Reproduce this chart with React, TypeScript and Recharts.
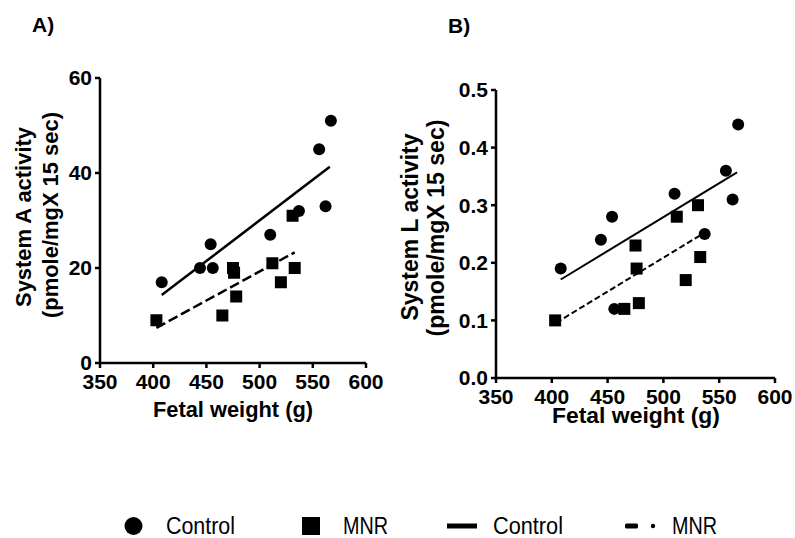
import { ScatterChart, Scatter, XAxis, YAxis } from 'recharts'

const FONT = '"Liberation Sans", Arial, sans-serif'
const INK = '#000'

// fetal weight (g), same animals in both panels
const weightControl = [408, 444, 454, 456, 510, 537, 556, 562, 567]
const weightMNR = [403, 465, 475, 476, 478, 512, 520, 531, 533]

// System A activity (pmole/mg X 15 sec)
const sysAControl = [17, 20, 25, 20, 27, 32, 45, 33, 51]
const sysAMNR = [9, 10, 20, 19, 14, 21, 17, 31, 20]

// System L activity (pmole/mg X 15 sec)
const sysLControl = [0.19, 0.24, 0.28, 0.12, 0.32, 0.25, 0.36, 0.31, 0.44]
const sysLMNR = [0.1, 0.12, 0.23, 0.19, 0.13, 0.28, 0.17, 0.3, 0.21]

// regression line end points
const fitAControlX = [408, 566]
const fitAControlY = [14.3, 41.3]
const fitAMNRX = [403, 533]
const fitAMNRY = [7.4, 23.3]
const fitLControlX = [408, 566]
const fitLControlY = [0.171, 0.357]
const fitLMNRX = [404, 535]
const fitLMNRY = [0.096, 0.25]

const xTicks = [350, 400, 450, 500, 550, 600]
const yTicksA = [0, 20, 40, 60]
const yTicksL = [0, 0.1, 0.2, 0.3, 0.4, 0.5]

const zip = (xs: number[], ys: number[]) => xs.map((x, i) => ({ x, y: ys[i] }))

const Dot = ({ cx, cy }: any) => <circle cx={cx} cy={cy} r={6} fill={INK} />
const Box = ({ cx, cy }: any) => <rect x={cx - 6} y={cy - 6} width={12} height={12} fill={INK} />
const NoMark = () => <g />

const axisStroke = { stroke: INK, strokeWidth: 2.5 }
const tickStyle = { fill: INK, fontSize: 21, fontWeight: 700, fontFamily: FONT }

type PanelProps = {
  left: number
  width: number
  margin: { top: number; right: number; left: number; bottom: number }
  yDomain: [number, number]
  yTicks: number[]
  yFmt?: (v: number) => string
  control: { x: number; y: number }[]
  mnr: { x: number; y: number }[]
  fitControl: { x: number; y: number }[]
  fitMNR: { x: number; y: number }[]
  lineW: number
  dash: string
}

function Panel(p: PanelProps) {
  return (
    <div style={{ position: 'absolute', left: p.left, top: 0 }}>
      <ScatterChart width={p.width} height={440} margin={p.margin}>
        <XAxis
          type="number"
          dataKey="x"
          domain={[350, 600]}
          ticks={xTicks}
          axisLine={axisStroke}
          tickLine={axisStroke}
          tickSize={5}
          tickMargin={6}
          tick={tickStyle}
          height={30}
        />
        <YAxis
          type="number"
          dataKey="y"
          domain={p.yDomain}
          ticks={p.yTicks}
          tickFormatter={p.yFmt}
          axisLine={axisStroke}
          tickLine={axisStroke}
          tickSize={5}
          tickMargin={3}
          tick={tickStyle}
          width={60}
        />
        <Scatter data={p.control} shape={<Dot />} isAnimationActive={false} />
        <Scatter data={p.mnr} shape={<Box />} isAnimationActive={false} />
        <Scatter
          data={p.fitControl}
          line={{ stroke: INK, strokeWidth: p.lineW }}
          lineType="joint"
          shape={<NoMark />}
          isAnimationActive={false}
        />
        <Scatter
          data={p.fitMNR}
          line={{ stroke: INK, strokeWidth: p.lineW, strokeDasharray: p.dash }}
          lineType="joint"
          shape={<NoMark />}
          isAnimationActive={false}
        />
      </ScatterChart>
    </div>
  )
}

const bold = { fontFamily: FONT, fontWeight: 700, fill: INK }
const plain = { fontFamily: FONT, fill: INK }

export default function App() {
  return (
    <div style={{ position: 'absolute', left: 0, top: 0, width: 795, height: 538, background: '#fff' }}>
      <Panel
        left={0}
        width={395}
        margin={{ top: 78, right: 29, left: 40, bottom: 47 }}
        yDomain={[0, 60]}
        yTicks={yTicksA}
        control={zip(weightControl, sysAControl)}
        mnr={zip(weightMNR, sysAMNR)}
        fitControl={zip(fitAControlX, fitAControlY)}
        fitMNR={zip(fitAMNRX, fitAMNRY)}
        lineW={2.5}
        dash="10 4"
      />
      <Panel
        left={395}
        width={400}
        margin={{ top: 90, right: 20, left: 41, bottom: 32 }}
        yDomain={[0, 0.5]}
        yTicks={yTicksL}
        yFmt={(v: number) => v.toFixed(1)}
        control={zip(weightControl, sysLControl)}
        mnr={zip(weightMNR, sysLMNR)}
        fitControl={zip(fitLControlX, fitLControlY)}
        fitMNR={zip(fitLMNRX, fitLMNRY)}
        lineW={2}
        dash="6 3"
      />
      <svg width={795} height={538} style={{ position: 'absolute', left: 0, top: 0, pointerEvents: 'none' }}>
        <text x={32} y={32} fontSize={21} {...bold}>A)</text>
        <text x={448} y={33} fontSize={21} {...bold}>B)</text>

        <text transform="translate(31,217) rotate(-90)" textAnchor="middle" fontSize={22} textLength={180} lengthAdjust="spacingAndGlyphs" {...bold}>System A activity</text>
        <text transform="translate(58,215) rotate(-90)" textAnchor="middle" fontSize={22} textLength={206} lengthAdjust="spacingAndGlyphs" {...bold}>(pmole/mgX 15 sec)</text>
        <text x={233} y={417} textAnchor="middle" fontSize={22} textLength={160} lengthAdjust="spacingAndGlyphs" {...bold}>Fetal weight (g)</text>

        <text transform="translate(418,227) rotate(-90)" textAnchor="middle" fontSize={23} textLength={187} lengthAdjust="spacingAndGlyphs" {...bold}>System L activity</text>
        <text transform="translate(444,228) rotate(-90)" textAnchor="middle" fontSize={23} textLength={217} lengthAdjust="spacingAndGlyphs" {...bold}>(pmole/mgX 15 sec)</text>
        <text x={636} y={423} textAnchor="middle" fontSize={22} textLength={168} lengthAdjust="spacingAndGlyphs" {...bold}>Fetal weight (g)</text>

        {/* legend */}
        <circle cx={133.5} cy={526} r={9} fill={INK} />
        <text x={166} y={534} fontSize={23} textLength={69} lengthAdjust="spacingAndGlyphs" {...plain}>Control</text>
        <rect x={302} y={517} width={18} height={18} fill={INK} />
        <text x={343} y={534} fontSize={23} textLength={45} lengthAdjust="spacingAndGlyphs" {...plain}>MNR</text>
        <line x1={447} x2={477} y1={526} y2={526} stroke={INK} strokeWidth={5} />
        <text x={493} y={534} fontSize={23} textLength={70} lengthAdjust="spacingAndGlyphs" {...plain}>Control</text>
        <rect x={625} y={523.5} width={13} height={5} rx={1.5} fill={INK} />
        <circle cx={653} cy={526} r={2.2} fill={INK} />
        <text x={672} y={534} fontSize={23} textLength={45} lengthAdjust="spacingAndGlyphs" {...plain}>MNR</text>
      </svg>
    </div>
  )
}
